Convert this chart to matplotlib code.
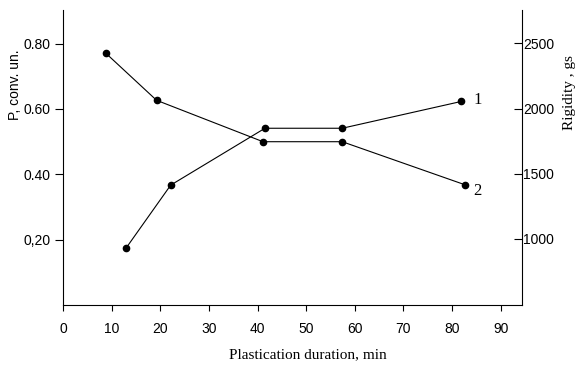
import matplotlib; matplotlib.use("Agg")
import matplotlib.pyplot as plt

# curve 1: P (left axis), curve 2: rigidity (right axis)
t1 = [12.9, 22.1, 41.5, 57.4, 81.9]
p1 = [0.174, 0.367, 0.541, 0.541, 0.623]
t2 = [8.8, 19.2, 41.1, 57.4, 82.6]
r2 = [2423, 2063, 1745, 1745, 1415]

xticks = [0, 10, 20, 30, 40, 50, 60, 70, 80, 90]
lticks = [0.2, 0.4, 0.6, 0.8]
llabels = ["0,20", "0.40", "0.60", "0.80"]
rticks = [1000, 1500, 2000, 2500]

sans = "Liberation Sans"
serif = "Liberation Serif"

fig = plt.figure(figsize=(5.86, 3.73), dpi=100)
ax = fig.add_axes([0.108, 0.182, 0.782, 0.791])
ax2 = ax.twinx()

ax.plot(t1, p1, "-o", color="black", lw=0.8, ms=4.5)
ax2.plot(t2, r2, "-o", color="black", lw=0.8, ms=4.5)

ax.set_xlim(0, 94.3)
ax.set_ylim(0.0, 0.9025)
ax2.set_ylim(490, 2756)

ax.set_xticks(xticks)
ax.set_xticklabels([str(v) for v in xticks], family=sans, fontsize=10)
ax.set_yticks(lticks)
ax.set_yticklabels(llabels, family=sans, fontsize=10)
ax2.set_yticks(rticks)
ax2.set_yticklabels([str(v) for v in rticks], family=sans, fontsize=10)

ax.tick_params(axis="x", direction="out", length=4, width=0.8, pad=8)
ax.tick_params(axis="y", direction="out", length=6, width=0.8, pad=3)
ax2.tick_params(axis="y", direction="in", length=6, width=0.8, pad=1)

for a in (ax, ax2):
    a.spines["top"].set_visible(False)
    for s in a.spines.values():
        s.set_linewidth(0.8)
ax.spines["right"].set_visible(False)
ax2.spines["left"].set_visible(False)
ax2.spines["bottom"].set_visible(False)

ax.text(t1[-1] + 2.5, p1[-1] + 0.005, "1", family=serif, fontsize=12, va="center")
ax2.text(t2[-1] + 1.8, r2[-1] - 45, "2", family=serif, fontsize=12, va="center")

fig.text(0.026, 0.772, "P, conv. un.", rotation=90, family=sans, fontsize=10,
         ha="center", va="center")
fig.text(0.971, 0.753, "Rigidity , gs", rotation=90, family=serif, fontsize=11,
         ha="center", va="center")
fig.text(0.526, 0.048, "Plastication duration, min", family=serif, fontsize=11,
         ha="center", va="center")

fig.savefig("out.png", dpi=100)
